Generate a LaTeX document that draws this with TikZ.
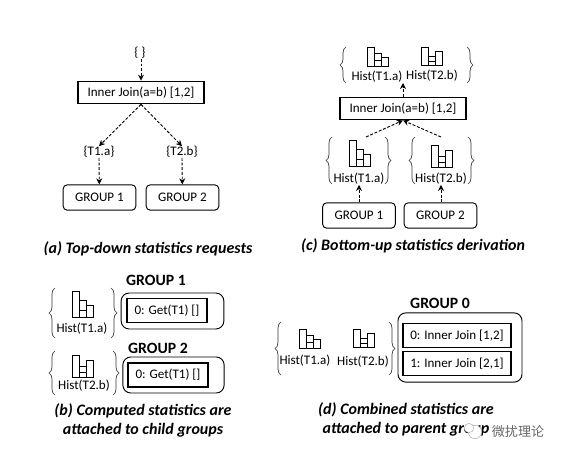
\documentclass[tikz,border=0pt]{standalone}
\usepackage{fontspec}
\setmainfont{Carlito}
\newfontfamily\cjkfont{Noto Sans CJK SC}
\usetikzlibrary{arrows.meta,decorations.pathreplacing}
\tikzset{
  node-op/.style={draw,line width=0.8pt,minimum width=94.5pt,minimum height=17pt,inner sep=0pt,font=\fontsize{9.8}{11}\selectfont},
  node-grp/.style={draw,rounded corners=3pt,line width=0.7pt,minimum width=54.5pt,minimum height=19pt,inner sep=0pt,font=\fontsize{9.8}{11}\selectfont},
  node-outer/.style={draw,rounded corners=6pt,line width=0.7pt,inner sep=0pt},
  node-expr/.style={draw,line width=0.8pt,inner sep=0pt,font=\fontsize{9.8}{11}\selectfont},
  node-lab/.style={inner sep=0pt,font=\fontsize{9.8}{11}\selectfont},
  node-title/.style={inner sep=0pt,font=\fontsize{11.8}{13}\selectfont\bfseries},
  caption/.style={inner sep=0pt,align=center,font=\fontsize{12}{14.2}\selectfont\bfseries\itshape},
  req/.style={-{Stealth[length=4.5pt,width=4.5pt]},line width=0.7pt,dash pattern=on 2.2pt off 1.3pt},
  setbrace/.style={draw=black!80,line width=0.5pt,decorate,decoration={brace,amplitude=4.5pt}},
  bar/.style={draw,line width=0.7pt},
  histA/.pic={
    \draw[bar] (0,0) rectangle (7,26);
    \draw[bar] (7,9) rectangle (14,26);
    \draw[bar] (14,14) rectangle (21,26);
    \draw[bar] (7,19) -- (14,19);
  },
  histB/.pic={
    \draw[bar] (0,0) rectangle (7,22);
    \draw[bar] (7,11) rectangle (14,22);
    \draw[bar] (14,5) rectangle (21,22);
    \draw[bar] (7,17) -- (14,17);
  },
}

\begin{document}
\begin{tikzpicture}[x=0.75pt,y=-0.75pt]
  \useasboundingbox (0,0) rectangle (562,457);

  % PANEL a: top-down
  \node[node-lab] (reqroot) at (140,53) {\{ \}};
  \node[node-op] (joina) at (141,92.5) {Inner Join(a=b) [1,2]};
  \node[node-lab] (reqa) at (99,152) {\{T1.a\}};
  \node[node-lab] (reqb) at (182,152) {\{T2.b\}};
  \node[node-grp] (grpa1) at (99.5,197.5) {GROUP 1};
  \node[node-grp] (grpa2) at (182.5,197.5) {GROUP 2};
  \draw[req] (reqroot.south -| joina) -- (joina);
  \draw[req] (joina.south) -- (reqa.north);
  \draw[req] (joina.south) -- (reqb.north);
  \draw[req] (reqa.south) -- (grpa1);
  \draw[req] (reqb.south) -- (grpa2);
  \node[caption] (capa) at (148,249) {(a) Top-down statistics requests};

  % PANEL c: bottom-up
  \pic at (367,47) [yscale=0.73] {histA};
  \pic at (421,47) [yscale=0.85] {histB};
  \node[node-lab] (histc1) at (377,77) {Hist(T1.a)};
  \node[node-lab] (histc2) at (432,76) {Hist(T2.b)};
  \coordinate (topl) at (346,83);
  \coordinate (topt) at (346,47);
  \coordinate (topr) at (467,47);
  \coordinate (topb) at (467,83);
  \draw[setbrace] (topl) -- (topt);
  \draw[setbrace] (topr) -- (topb);
  \node[node-op] (joinc) at (403,108.5) {Inner Join(a=b) [1,2]};
  \coordinate (toparrow) at (403,83);
  \draw[req] (joinc) -- (toparrow);

  \pic at (349,140) {histA};
  \pic at (431,145) {histB};
  \node[node-lab] (histc3) at (359,179) {Hist(T1.a)};
  \node[node-lab] (histc4) at (441,179) {Hist(T2.b)};
  \draw[setbrace] (332,184) -- (332,137);
  \draw[setbrace] (385,137) -- (385,184);
  \draw[setbrace] (415,184) -- (415,137);
  \draw[setbrace] (468,137) -- (468,184);
  \coordinate (fromc1) at (366,137);
  \coordinate (fromc2) at (441,137);
  \draw[req] (fromc1) -- (joinc.south);
  \draw[req] (fromc2) -- (joinc.south);
  \node[node-grp] (grpc1) at (359,215.5) {GROUP 1};
  \node[node-grp] (grpc2) at (440.5,215.5) {GROUP 2};
  \draw[req] (grpc1) -- (histc3.south);
  \draw[req] (grpc2.north -| histc4) -- (histc4.south);
  \node[caption] (capc) at (413,246) {(c) Bottom-up statistics derivation};

  % PANEL b: child groups
  \node[node-title] (titleb1) at (156,280) {GROUP 1};
  \pic at (72,291) {histA};
  \node[node-lab] (histb1) at (82,329) {Hist(T1.a)};
  \draw[setbrace] (55,338) -- (55,288);
  \draw[setbrace] (111,288) -- (111,338);
  \node[node-outer,minimum width=77pt,minimum height=27pt] (grpb1) at (172.5,311) {};
  \node[node-expr,minimum width=60pt,minimum height=17.5pt] (exprb1) at (167,310.5) {0: Get(T1) []};

  \node[node-title] (titleb2) at (158,348) {GROUP 2};
  \pic at (72,355) {histB};
  \node[node-lab] (histb2) at (84,386) {Hist(T2.b)};
  \draw[setbrace] (55,395) -- (55,351);
  \draw[setbrace] (113,351) -- (113,395);
  \node[node-outer,minimum width=76pt,minimum height=27pt] (grpb2) at (173.5,375) {};
  \node[node-expr,minimum width=60pt,minimum height=18pt] (exprb2) at (168,375) {0: Get(T1) []};
  \node[caption] (capb) at (143,420.5) {(b) Computed statistics are\\attached to child groups};

  % PANEL d: parent group
  \node[node-title] (titled) at (440,303) {GROUP 0};
  \pic at (299,329) [yscale=0.73] {histA};
  \pic at (353,329) [yscale=0.85] {histB};
  \node[node-lab] (histd1) at (305,361) {Hist(T1.a)};
  \node[node-lab] (histd2) at (363,362) {Hist(T2.b)};
  \draw[setbrace] (281,375) -- (281,322);
  \draw[setbrace] (389,322) -- (389,375);
  \node[node-outer,minimum width=93pt,minimum height=52pt] (grpd) at (460,347.5) {};
  \node[node-expr,minimum width=81pt,minimum height=17.5pt] (exprd0) at (457,335.5) {0: Inner Join [1,2]};
  \node[node-expr,minimum width=81pt,minimum height=17.5pt] (exprd1) at (457,363.5) {1: Inner Join [2,1]};
  \node[caption] (capd) at (406,419.5) {(d) Combined statistics are\\attached to parent group};

  % watermark
  \node[circle,draw=black!30,fill=white,line width=0.4pt,minimum size=10pt,inner sep=0pt] (markb) at (475,432) {};
  \node[circle,draw=black!30,fill=white,line width=0.4pt,minimum size=7pt,inner sep=0pt] (marka) at (469,428) {};
  \node[inner sep=0pt,text=black!60,font=\fontsize{9.8}{11}\cjkfont] (mark) at (518,432) {微扰理论};
\end{tikzpicture}
\end{document}
